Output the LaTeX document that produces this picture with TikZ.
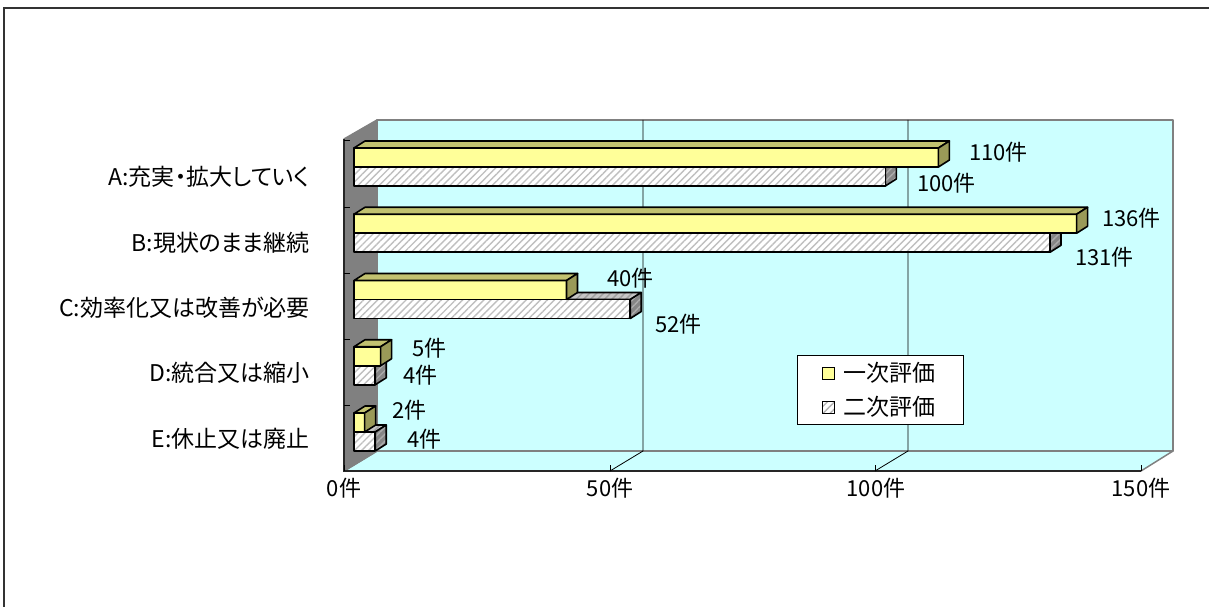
\documentclass[tikz,border=0pt]{standalone}
\usepackage{fontspec}
\setmainfont{Noto Sans CJK JP}[RawFeature=+palt]
\usetikzlibrary{patterns.meta}
\definecolor{wallcyan}{HTML}{CCFFFF}
\definecolor{wallgray}{HTML}{808080}
\definecolor{yelfront}{HTML}{FFFF99}
\definecolor{yeltop}{HTML}{C2C270}
\definecolor{yelside}{HTML}{9A9A58}
\tikzset{
  boxedge/.style={draw=black, line width=1.6pt, line join=round},
  hatchfill/.style={pattern={Lines[angle=45,distance=5pt,line width=1.4pt]}, pattern color=#1},
  hatchfill/.default=gray!50,
  lbl/.style={font=\fontsize{22}{26}\selectfont, inner sep=0pt},
  catlbl/.style={font=\fontsize{23}{27}\selectfont, inner sep=0pt},
  wall/.style={draw=wallgray, line width=1.5pt, line join=round},
}
% first and second bar of a category: value, top of the first bar
\newcommand{\firstbar}[2]{%
  \draw[boxedge, fill=yelfront] (354,#2) rectangle (354+#1*5.313,#2+19);
  \draw[boxedge, fill=yeltop] (354,#2) -- (365,#2-7) -- (365+#1*5.313,#2-7) -- (354+#1*5.313,#2) -- cycle;
  \draw[boxedge, fill=yelside] (354+#1*5.313,#2) -- (365+#1*5.313,#2-7) -- (365+#1*5.313,#2+12) -- (354+#1*5.313,#2+19) -- cycle;}
\newcommand{\secondbar}[2]{%
  \draw[boxedge, preaction={fill=gray!45}, preaction={hatchfill=gray!75}] (354,#2+19) -- (365,#2+12) -- (365+#1*5.313,#2+12) -- (354+#1*5.313,#2+19) -- cycle;
  \draw[boxedge, preaction={fill=gray!95}, preaction={hatchfill=gray!65}] (354+#1*5.313,#2+19) -- (365+#1*5.313,#2+12) -- (365+#1*5.313,#2+31) -- (354+#1*5.313,#2+38) -- cycle;
  \draw[boxedge, preaction={fill=white}, preaction={hatchfill}] (354,#2+19) rectangle (354+#1*5.313,#2+38);}
\begin{document}
\begin{tikzpicture}[x=1pt, y=-1pt]
  \useasboundingbox (0,0) rectangle (1209,607);
  \draw[line width=1.5pt, draw=black!80] (4,640) -- (4,8) -- (1240,8);

  \draw[wall, fill=wallcyan] (377,120) rectangle (1173,451);
  \draw[wall, fill=wallcyan] (344,471) -- (377,451) -- (1173,451) -- (1141,471) -- cycle;
  \draw[wall, fill=wallgray] (344,139) -- (377,120) -- (377,451) -- (344,471) -- cycle;
  \draw[line width=1.6pt, draw=black!85] (344,139) -- (344,471) -- (1141,471);

  \draw[line width=0.8pt]
    (610,471) -- (643,451) -- (643,120)
    (875,471) -- (908,451) -- (908,120);
  \draw[line width=0.8pt]
    (344,465) -- (344,471) (610,465) -- (610,471)
    (875,465) -- (875,471) (1141,465) -- (1141,471);
  \draw[line width=0.8pt]
    (344,140) -- (350,140) (344,207) -- (350,207) (344,273) -- (350,273)
    (344,339) -- (350,339) (344,405) -- (350,405);

  \secondbar{100}{148}
  \firstbar{110}{148}
  \secondbar{131}{214.25}
  \firstbar{136}{214.25}
  \secondbar{52}{280.5}
  \firstbar{40}{280.5}
  \secondbar{4}{346.75}
  \firstbar{5}{346.75}
  \secondbar{4}{413}
  \firstbar{2}{413}

  \node[catlbl, anchor=east] (catA) at (310,177) {A:充実・拡大していく};
  \node[catlbl, anchor=east] (catB) at (310,243) {B:現状のまま継続};
  \node[catlbl, anchor=east] (catC) at (310,308) {C:効率化又は改善が必要};
  \node[catlbl, anchor=east] (catD) at (310,373) {D:統合又は縮小};
  \node[catlbl, anchor=east] (catE) at (310,439) {E:休止又は廃止};

  \node[lbl, anchor=west] (vA1) at (969,152) {110件};
  \node[lbl, anchor=west] (vA2) at (917,183) {100件};
  \node[lbl, anchor=west] (vB1) at (1102,218) {136件};
  \node[lbl, anchor=west] (vB2) at (1075,257) {131件};
  \node[lbl, anchor=west] (vC1) at (607,278) {40件};
  \node[lbl, anchor=west] (vC2) at (655,324) {52件};
  \node[lbl, anchor=west] (vD1) at (412,348) {5件};
  \node[lbl, anchor=west] (vD2) at (403,375) {4件};
  \node[lbl, anchor=west] (vE1) at (392,410) {2件};
  \node[lbl, anchor=west] (vE2) at (407,439) {4件};

  \node[lbl] (x0) at (344,488) {0件};
  \node[lbl] (x50) at (610,488) {50件};
  \node[lbl] (x100) at (876,488) {100件};
  \node[lbl] (x150) at (1141,488) {150件};

  \draw[fill=white, draw=black, line width=1pt] (797,355) rectangle (963,424);
  \draw[line width=1pt, fill=yelfront] (822,367) rectangle (834,379);
  \draw[line width=1pt, preaction={fill=white}, preaction={hatchfill=gray!60}] (822,401) rectangle (834,413);
  \node[catlbl, anchor=west] (leg1) at (843,373) {一次評価};
  \node[catlbl, anchor=west] (leg2) at (843,407) {二次評価};
\end{tikzpicture}
\end{document}
